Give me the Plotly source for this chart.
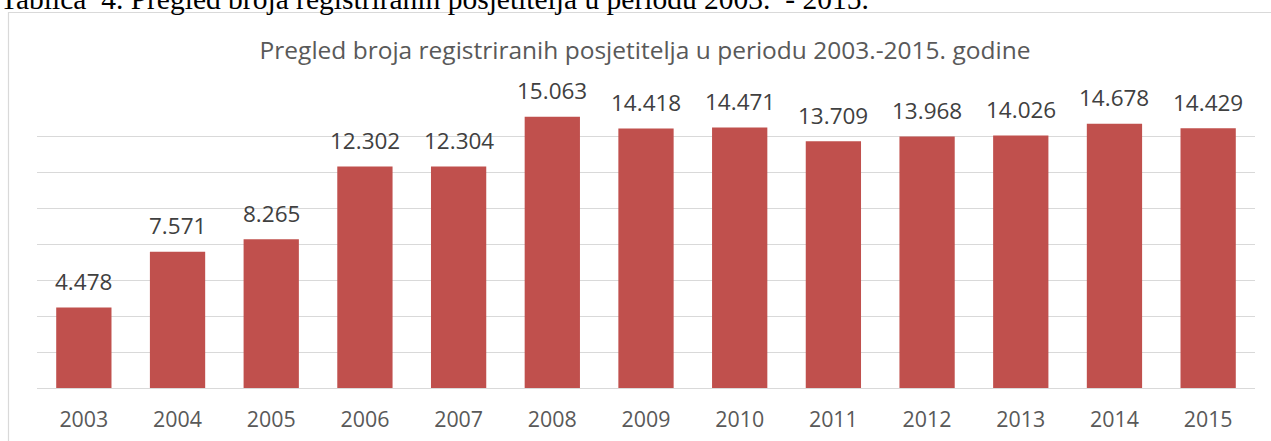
import plotly.graph_objects as go

years = ["2003", "2004", "2005", "2006", "2007", "2008", "2009",
         "2010", "2011", "2012", "2013", "2014", "2015"]
visitors = [4478, 7571, 8265, 12302, 12304, 15063, 14418,
            14471, 13709, 13968, 14026, 14678, 14429]
labels = ["4.478", "7.571", "8.265", "12.302", "12.304", "15.063", "14.418",
          "14.471", "13.709", "13.968", "14.026", "14.678", "14.429"]

title_text = "Pregled broja registriranih posjetitelja u periodu 2003.-2015. godine"
caption_text = "Tablica  4. Pregled broja registriranih posjetitelja u periodu 2003.  - 2015."

W, H = 1271, 441
ML, MR, MT, MB = 37, 16, 100, 53
PW = W - ML - MR
PH = H - MT - MB

def px_x(x):
    return (x - ML) / PW

def px_y(y):
    return (H - MB - y) / PH

FONT = "Open Sans"

fig = go.Figure()
fig.add_trace(go.Bar(
    x=years, y=visitors,
    marker=dict(color="#c0504d", line=dict(width=0)),
    hoverinfo="x+y",
))

for i, (v, lab) in enumerate(zip(visitors, labels)):
    fig.add_annotation(
        x=i, y=v, xref="x", yref="y", text=lab, showarrow=False,
        yanchor="middle", yshift=26,
        font=dict(family=FONT, size=22.5, color="#404040"),
    )

# cut-off caption above the chart
fig.add_annotation(
    x=px_x(-2), y=px_y(-1.5), xref="paper", yref="paper",
    xanchor="left", yanchor="middle", showarrow=False,
    text=caption_text,
    font=dict(family="Liberation Serif", size=29.5, color="#000000"),
)

# chart frame border
fig.add_shape(
    type="rect", xref="paper", yref="paper",
    x0=px_x(8.5), x1=px_x(1290), y0=px_y(12.5), y1=px_y(470),
    line=dict(color="#d9d9d9", width=1.2), fillcolor="rgba(0,0,0,0)",
    layer="below",
)

fig.update_layout(
    width=W, height=H, autosize=False,
    margin=dict(l=ML, r=MR, t=MT, b=MB, autoexpand=False),
    paper_bgcolor="white", plot_bgcolor="white",
    showlegend=False,
    bargap=0.41,
    title=dict(
        text=title_text, x=645 / W, xanchor="center",
        y=1 - 50 / H, yanchor="middle",
        font=dict(family=FONT, size=24.5, color="#595959"),
    ),
    xaxis=dict(
        type="category", showgrid=False, showline=True,
        linecolor="#d9d9d9", linewidth=1, ticks="",
        tickfont=dict(family=FONT, size=21.4, color="#595959"),
        ticklabelstandoff=12, range=[-0.5, 12.5], automargin=False,
    ),
    yaxis=dict(
        range=[0, 16000], dtick=2000, showticklabels=False,
        showgrid=True, gridcolor="#d9d9d9", gridwidth=1,
        zeroline=False, showline=False, ticks="", automargin=False,
    ),
)

fig.write_html(
    "out.html",
    config={"displayModeBar": False},
    post_script="document.body.style.margin='0';document.body.style.overflow='hidden';",
)
